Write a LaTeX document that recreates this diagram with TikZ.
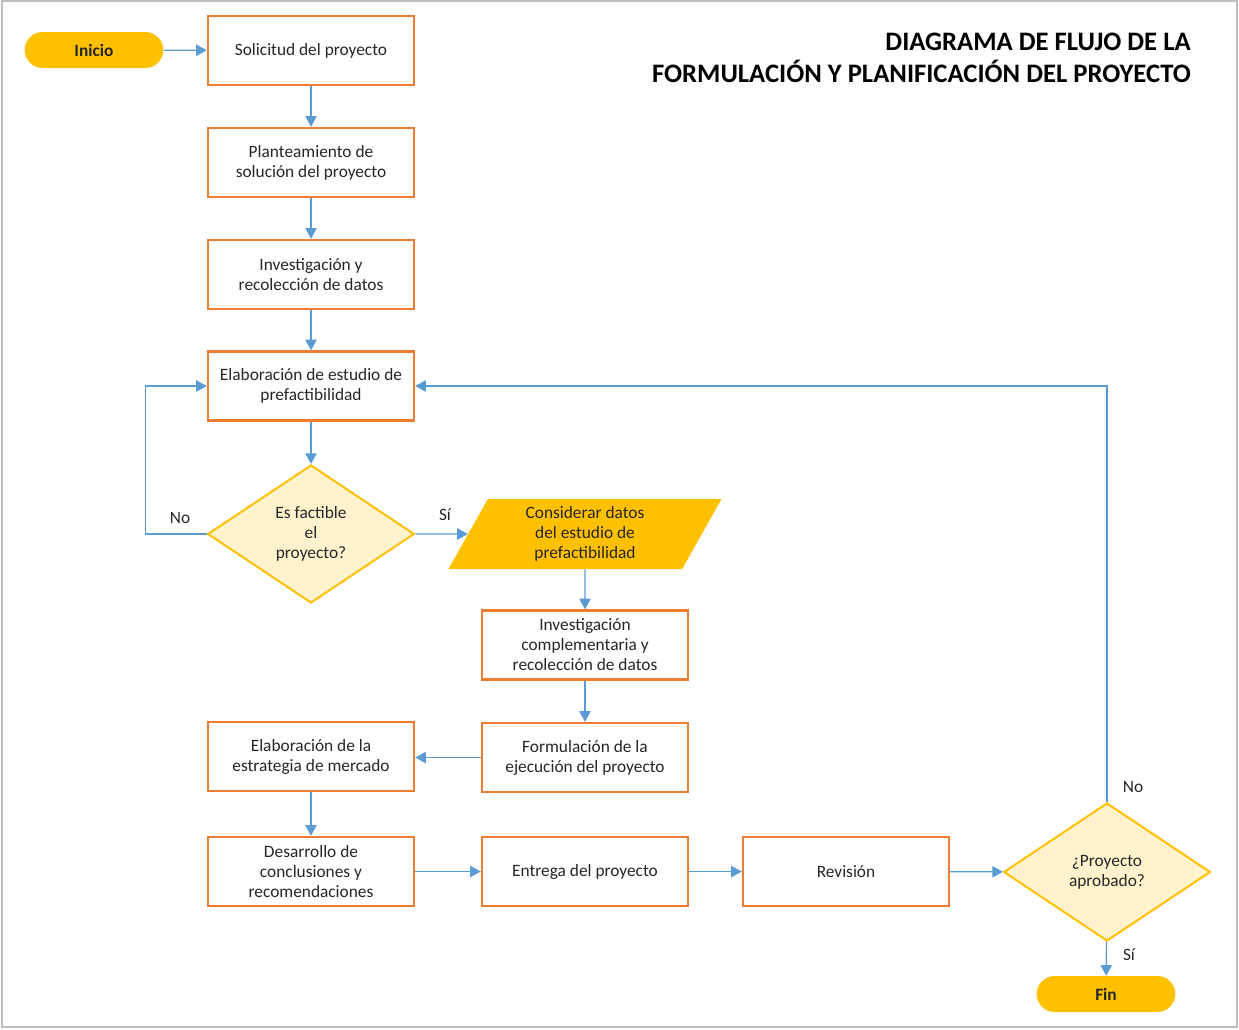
\documentclass[tikz,border=0pt]{standalone}
\usepackage{fontspec}
\setmainfont{Carlito}
\usepackage{tikz}
\usetikzlibrary{positioning,arrows.meta,shapes.geometric,calc}
\definecolor{naranja}{RGB}{237,125,49}
\definecolor{azul}{RGB}{91,155,213}
\definecolor{oro}{RGB}{255,192,0}
\definecolor{crema}{RGB}{255,242,204}
\definecolor{texto}{RGB}{38,38,38}
\tikzset{
    proc/.style={rectangle,draw=naranja,line width=1.8pt,fill=white,minimum width=154.5pt,minimum height=51.75pt,inner sep=2pt,align=center,font=\fontsize{13}{15}\selectfont,text=texto},
    dec/.style={diamond,draw=oro,line width=1.5pt,fill=crema,aspect=1.5,minimum width=155pt,minimum height=103.5pt,inner sep=0pt,align=center,font=\fontsize{13}{15}\selectfont,text=texto},
    term/.style={rectangle,rounded corners=13.5pt,fill=oro,minimum width=104pt,minimum height=27pt,inner sep=0pt,font=\fontsize{13}{15}\selectfont\bfseries,text=texto},
    datos/.style={trapezium,trapezium left angle=60,trapezium right angle=120,trapezium stretches body,fill=oro,minimum width=204.75pt,minimum height=52.5pt,inner xsep=1pt,inner ysep=5pt,align=center,font=\fontsize{13}{15}\selectfont,text=texto},
    lbl/.style={inner sep=1pt,font=\fontsize{13}{15}\selectfont,text=texto},
    arr/.style={-{Triangle[length=8pt,width=8.5pt]},draw=azul,line width=0.9pt},
}

\begin{document}
\begin{tikzpicture}[x=0.75pt,y=-0.75pt]
\useasboundingbox (0,0) rectangle (1239,1029);
\draw[black!25,line width=0.8pt] (2,1) rectangle (1237,1027);

\node[anchor=east,align=right,inner sep=0pt,font=\fontsize{20}{24}\selectfont\bfseries,text=black] (tit) at (1191,58) {DIAGRAMA DE FLUJO DE LA\\FORMULACIÓN Y PLANIFICACIÓN DEL PROYECTO};

\node[term] (ini) at (94,50) {Inicio};
\node[proc] (sol)  at (311,50.5) {Solicitud del proyecto};
\node[proc] (plan) at (311,162.5) {Planteamiento de\\solución del proyecto};
\node[proc] (inv)  at (311,274.5) {Investigación y\\recolección de datos};
\node[proc] (est)  at (311,386) {Elaboración de estudio de\\prefactibilidad};
\node[dec]  (fact) at (311,534) {Es factible\\el\\proyecto?};
\node[datos] (cons) at (585,534) {Considerar datos\\del estudio de\\prefactibilidad};
\node[proc] (invc) at (585,645) {Investigación\\complementaria y\\recolección de datos};
\node[proc] (form) at (585,757.5) {Formulación de la\\ejecución del proyecto};
\node[proc] (merc) at (311,756.5) {Elaboración de la\\estrategia de mercado};
\node[proc] (concl) at (311,871.5) {Desarrollo de\\conclusiones y\\recomendaciones};
\node[proc] (ent)  at (585,871.5) {Entrega del proyecto};
\node[proc] (rev)  at (846,871.5) {Revisión};
\node[dec]  (apr)  at (1107,872) {¿Proyecto\\aprobado?};
\node[term] (fin)  at (1106,994) {Fin};

\node[lbl] (lno1) at (180,518) {No};
\node[lbl] (lsi1) at (445,515) {Sí};
\node[lbl] (lno2) at (1133,787) {No};
\node[lbl] (lsi2) at (1129,955) {Sí};

\draw[arr] (ini) -- (sol);
\draw[arr] (sol) -- (plan);
\draw[arr] (plan) -- (inv);
\draw[arr] (inv) -- (est);
\draw[arr] (est) -- (fact);
\draw[arr] (fact.west) -- ++(-61,0) |- (est.west);
\draw[arr] (fact.east) -- (cons.west);
\draw[arr] (cons.south) -- (invc.north);
\draw[arr] (invc) -- (form);
\draw[arr] (form.west) -- (merc.east |- form.west);
\draw[arr] (merc) -- (concl);
\draw[arr] (concl) -- (ent);
\draw[arr] (ent) -- (rev);
\draw[arr] (rev) -- (apr);
\draw[arr] (apr.north) |- (est.east);
\draw[arr] (apr) -- (fin);
\end{tikzpicture}
\end{document}
